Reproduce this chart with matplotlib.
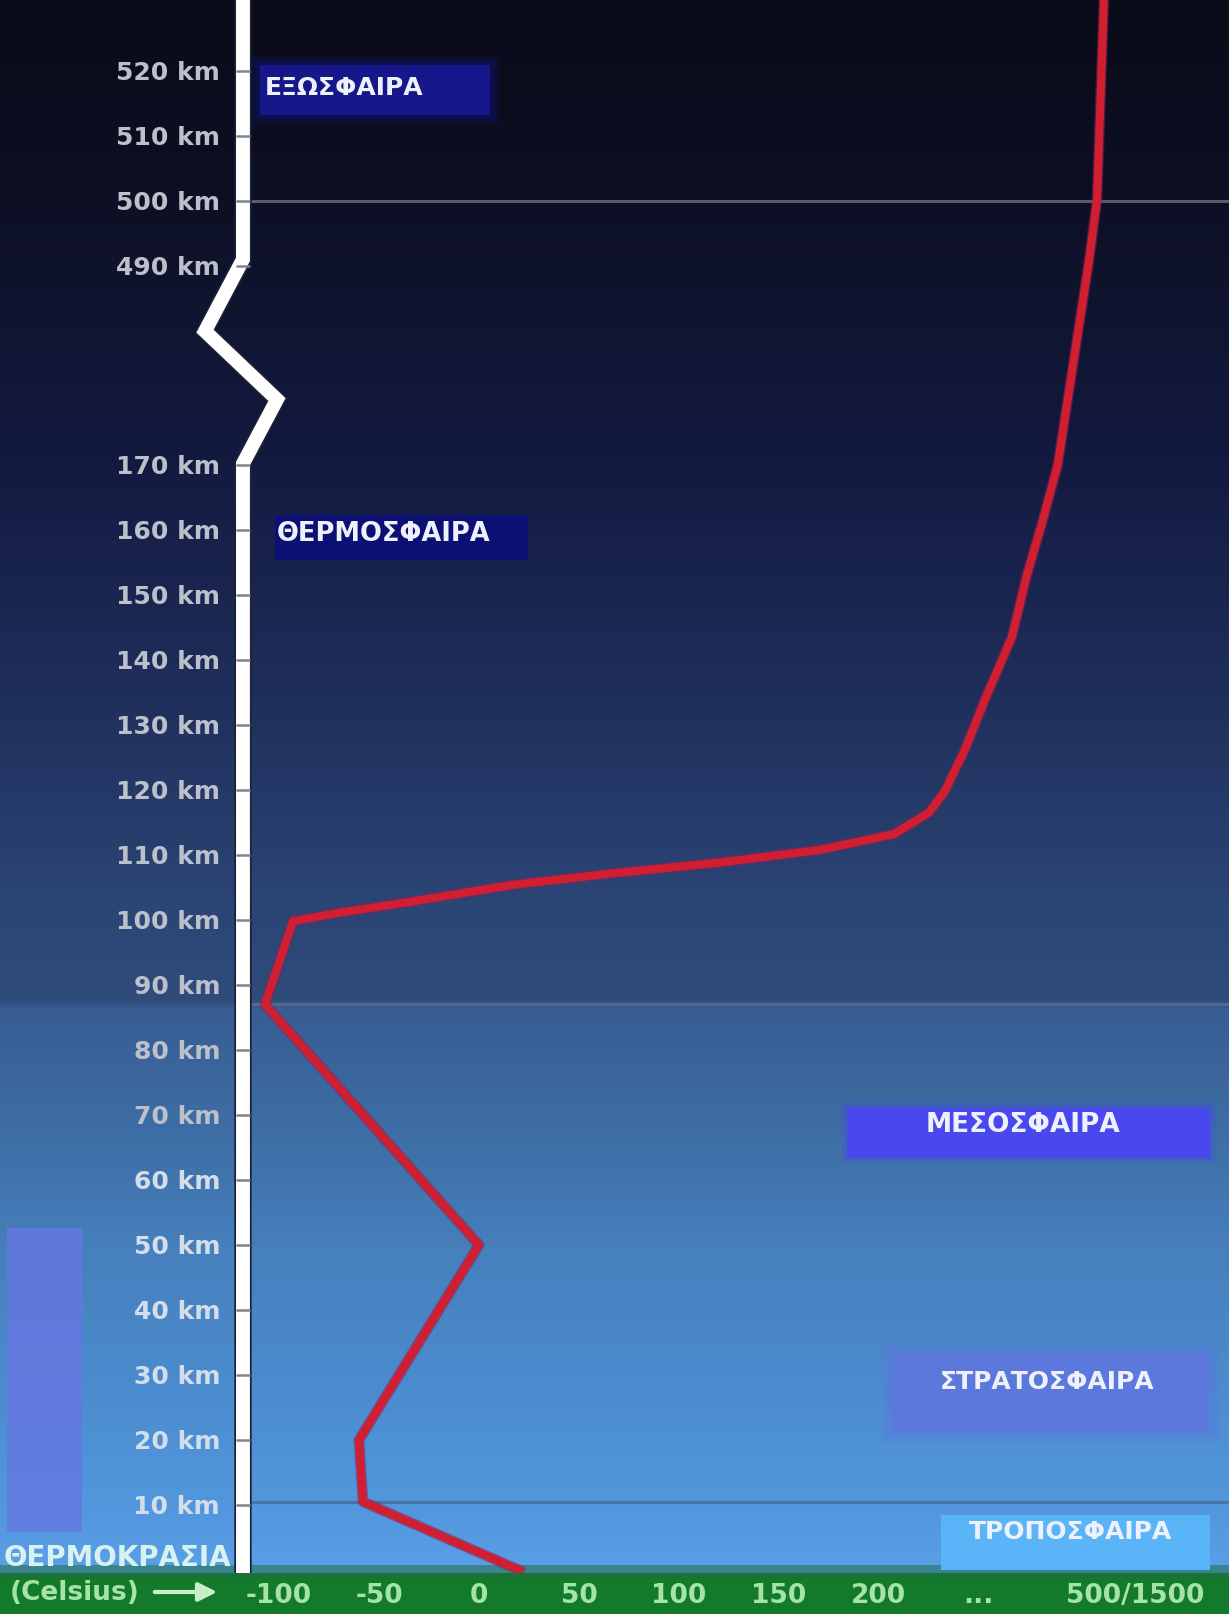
import numpy as np
import matplotlib.pyplot as plt
import matplotlib.patheffects as pe
from matplotlib.colors import to_rgb
from matplotlib.patches import Rectangle

W, H = 1229, 1614

altitudes_ticks = [10, 20, 30, 40, 50, 60, 70, 80, 90, 100, 110, 120, 130, 140, 150, 160, 170,
                   490, 500, 510, 520]
temp_ticks = [-100, -50, 0, 50, 100, 150, 200, 300, 1000]
temp_labels = ["-100", "-50", "0", "50", "100", "150", "200", "...", "500/1500"]

# red curve (km, Celsius)
profile_alt = [0, 10.5, 20, 50, 87, 99.8, 101.1, 102.8, 105.4, 107.2, 108.8, 110.8, 113.2,
               116.5, 119.8, 126.2, 134.2, 143.5, 153, 161, 170.5, 490.8, 500.2, 531]
profile_temp = [20, -58, -60, 0, -107, -93, -70, -34, 17, 68, 120, 171, 215,
                250, 266, 286, 331, 448, 515, 583, 654, 794, 830, 861]

layer_names = ["ΕΞΩΣΦΑΙΡΑ", "ΘΕΡΜΟΣΦΑΙΡΑ", "ΜΕΣΟΣΦΑΙΡΑ", "ΣΤΡΑΤΟΣΦΑΙΡΑ", "ΤΡΟΠΟΣΦΑΙΡΑ"]
layer_bounds = [10.5, 50.5, 87, 500]

# broken altitude axis
ALT_A = [-100, 0, 170, 490, 1000]
ALT_D = [-100, 0, 170, 200.6, 710.6]
# compressed temperature axis
TEMP_A = [-400, -100, 200, 300, 1000, 2000]
TEMP_D = [-6, 0, 6, 7, 8.56, 10.79]


def alt_fwd(a):
    return np.interp(a, ALT_A, ALT_D)


def alt_inv(d):
    return np.interp(d, ALT_D, ALT_A)


def temp_fwd(t):
    return np.interp(t, TEMP_A, TEMP_D)


def temp_inv(u):
    return np.interp(u, TEMP_D, TEMP_A)


def fx(px):
    return px / W


def fy(py):
    return 1 - py / H


def gradient_image():
    stops = [(0, "#0a0b18"), (200, "#0d1024"), (460, "#131a40"), (700, "#1f2f5c"),
             (900, "#2b4575"), (1000, "#2f4c7b"), (1008, "#375d93"), (1150, "#3f70a8"),
             (1250, "#4680bd"), (1400, "#4c8dd0"), (1500, "#5296dc"), (1573, "#5aa0e8")]
    ys = np.arange(1573)
    pos = [s[0] for s in stops]
    cols = np.array([to_rgb(s[1]) for s in stops])
    img = np.zeros((len(ys), 2, 3))
    for c in range(3):
        img[:, :, c] = np.interp(ys, pos, cols[:, c])[:, None]
    return img


def soft_box(ax, fig, x0, y0, x1, y1, color, blur=0):
    for k in range(blur, 0, -1):
        ax.add_patch(Rectangle((fx(x0 - 3 * k), fy(y1 + 3 * k)), fx(x1 - x0 + 6 * k), (y1 - y0 + 6 * k) / H,
                               transform=fig.transFigure, color=color, alpha=0.18, lw=0,
                               zorder=1, clip_on=False))
    ax.add_patch(Rectangle((fx(x0), fy(y1)), fx(x1 - x0), (y1 - y0) / H,
                           transform=fig.transFigure, color=color, lw=0, zorder=1.1, clip_on=False))


fig = plt.figure(figsize=(W / 100, H / 100), dpi=100, facecolor="#137a2b")
ax = fig.add_axes([0, 41 / H, 1, 1573 / H])
ax.set_xscale("function", functions=(temp_fwd, temp_inv))
ax.set_yscale("function", functions=(alt_fwd, alt_inv))
ax.set_xlim(-239.5, 1422)
ax.set_ylim(-0.46, 530.9)
ax.set_axisbelow(False)

ax.imshow(gradient_image(), extent=[0, 1, 0, 1], transform=ax.transAxes, aspect="auto", zorder=0)

# grass edge
ax.add_patch(Rectangle((0, fy(1579)), 1, 14 / H, transform=fig.transFigure,
                       color="#1f6e45", alpha=0.55, lw=0, zorder=0.5, clip_on=False))

for spine in ax.spines.values():
    spine.set_visible(False)

bar_t = -118
ax.spines["left"].set_position(("data", bar_t))

# layer boundaries
bound_styles = [("#4a6f9e", 0.9), ("#5577a8", 0.5), ("#56698c", 1.0), ("#5a5a6c", 1.0)]
for b, (c, a) in zip(layer_bounds, bound_styles):
    ax.axhline(b, xmin=fx(253), xmax=1, color=c, alpha=a, lw=2.2, zorder=1)

# white altitude bar with break
bar_x = [bar_t, bar_t, bar_t + 17, bar_t - 19, bar_t, bar_t]
bar_y = [-0.46, 172, 275, 385, 491, 531]
ax.plot(bar_x, bar_y, color="white", lw=10, solid_joinstyle="miter", zorder=2,
        path_effects=[pe.Stroke(linewidth=12.5, foreground="#1c2233"), pe.Normal()])

# temperature curve
ax.plot(profile_temp, profile_alt, color="#d01f30", lw=5.8, zorder=3, solid_joinstyle="round",
        path_effects=[pe.Stroke(linewidth=7.8, foreground="#8a1f55", alpha=0.5), pe.Normal()])

ax.set_yticks(altitudes_ticks)
ax.set_yticklabels([f"{a} km" for a in altitudes_ticks])
ax.yaxis.set_minor_locator(plt.NullLocator())
ax.tick_params(axis="y", direction="inout", length=10, width=1.8, color="#80848e",
               pad=11.5, labelsize=18)
for a, lab in zip(altitudes_ticks, ax.get_yticklabels()):
    lab.set_fontweight("bold")
    lab.set_color("#d4deeb" if a <= 60 else "#bcc0ca")

ax.set_xticks(temp_ticks)
ax.set_xticklabels(temp_labels)
ax.xaxis.set_minor_locator(plt.NullLocator())
ax.tick_params(axis="x", length=0, pad=7)
for lab in ax.get_xticklabels():
    lab.set_family(["Liberation Sans Narrow", "DejaVu Sans"])
    lab.set_fontsize(19)
    lab.set_fontweight("bold")
    lab.set_color("#a6e3a6")

# layer boxes
soft_box(ax, fig, 260, 65, 490, 115, "#15178a", blur=3)
soft_box(ax, fig, 275, 515, 528, 560, "#0b1075")
soft_box(ax, fig, 847, 1108, 1210, 1158, "#4848ee", blur=2)
soft_box(ax, fig, 893, 1353, 1208, 1430, "#5c78dc", blur=4)
soft_box(ax, fig, 941, 1515, 1210, 1570, "#5ab4f8")

label_pos = [(265, 88, 18), (277, 534, 18.5), (926, 1125, 19), (940, 1382, 18), (969, 1532, 18)]
for name, (px, py, fs) in zip(layer_names, label_pos):
    ax.text(fx(px), fy(py), name, transform=fig.transFigure, fontsize=fs, fontweight="bold",
            color="#eef0fa", ha="left", va="center", zorder=4, clip_on=False)

# empty legend-like block on the left
ax.add_patch(Rectangle((fx(7), fy(1532)), fx(75), (1532 - 1228) / H, transform=fig.transFigure,
                       color="#6478e0", alpha=0.85, lw=0, zorder=1, clip_on=False))

fig.text(fx(4), fy(1558), "ΘΕΡΜΟΚΡΑΣΙΑ", fontsize=20, fontweight="bold", color="#d8f2ef",
         ha="left", va="center")
fig.text(fx(10), fy(1593), "(Celsius)", fontsize=19, fontweight="bold", color="#a6e3a6",
         family=["Liberation Sans Narrow", "DejaVu Sans"], ha="left", va="center")
ax.annotate("", xy=(fx(220), fy(1592)), xytext=(fx(152), fy(1592)), xycoords=fig.transFigure,
            textcoords=fig.transFigure, annotation_clip=False,
            arrowprops=dict(arrowstyle="-|>", color="#c8f0c8", lw=3, mutation_scale=28))

fig.savefig("out.png", dpi=100, facecolor=fig.get_facecolor())
